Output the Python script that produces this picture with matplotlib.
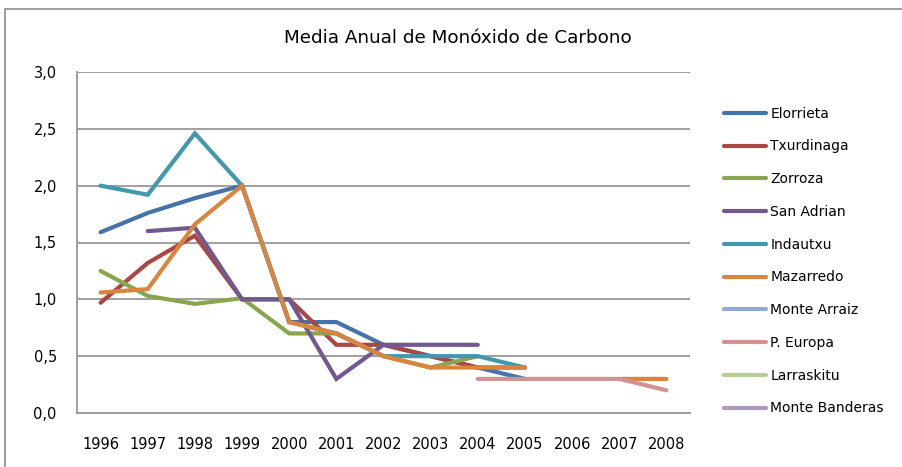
import numpy as np
import matplotlib
matplotlib.use("Agg")
import matplotlib.pyplot as plt
from matplotlib.ticker import FuncFormatter
from matplotlib.patches import Rectangle

plt.rcParams['font.family'] = ['DejaVu Sans']

years = ['1996', '1997', '1998', '1999', '2000', '2001', '2002',
         '2003', '2004', '2005', '2006', '2007', '2008']
nan = np.nan

# annual mean CO per station, nan = no data
elorrieta = [1.59, 1.76, 1.89, 2.0, 0.8, 0.8, 0.6, 0.5, 0.4, 0.3, nan, nan, nan]
txurdinaga = [0.97, 1.32, 1.56, 1.0, 1.0, 0.6, 0.6, 0.5, 0.4, 0.4, nan, nan, nan]
zorroza = [1.25, 1.03, 0.96, 1.01, 0.7, 0.7, 0.5, 0.4, 0.5, nan, nan, nan, nan]
san_adrian = [nan, 1.6, 1.63, 1.0, 1.0, 0.3, 0.6, 0.6, 0.6, nan, nan, nan, nan]
indautxu = [2.0, 1.92, 2.46, 2.0, 0.8, 0.7, 0.5, 0.5, 0.5, 0.4, nan, nan, nan]
mazarredo = [1.06, 1.09, 1.66, 2.0, 0.8, 0.7, 0.5, 0.4, 0.4, 0.4, nan, 0.3, 0.3]
monte_arraiz = [nan] * 13
p_europa = [nan, nan, nan, nan, nan, nan, nan, nan, 0.3, 0.3, 0.3, 0.3, 0.2]
larraskitu = [nan] * 13
monte_banderas = [nan] * 13

names = ['Elorrieta', 'Txurdinaga', 'Zorroza', 'San Adrian', 'Indautxu',
         'Mazarredo', 'Monte Arraiz', 'P. Europa', 'Larraskitu', 'Monte Banderas']
series = [elorrieta, txurdinaga, zorroza, san_adrian, indautxu,
          mazarredo, monte_arraiz, p_europa, larraskitu, monte_banderas]
colors = ['#4572A7', '#AA4643', '#89A54E', '#71588F', '#4198AF',
          '#DB843D', '#93A9CF', '#D19392', '#B9CD96', '#A99BBD']

fig = plt.figure(figsize=(9.03, 4.67), dpi=100)
ax = fig.add_axes([77/903, 1 - 413/467, 613/903, 341/467])

# outer chart border (runs off the right and bottom edges, as in the original)
fig.patches.append(Rectangle((5/903, -0.05), 1.1, 1.05 - 9/467, transform=fig.transFigure,
                             fill=False, edgecolor='#8c8c8c', lw=1.2))

x = np.arange(len(years))
for name, vals, c in zip(names, series, colors):
    ax.plot(x, np.array(vals, dtype=float), color=c, lw=3, label=name,
            solid_capstyle='round', solid_joinstyle='miter')

ax.set_xlim(-0.5, len(years) - 0.5)
ax.set_ylim(0, 3.0)
ax.set_yticks(np.arange(0, 3.01, 0.5))
ax.yaxis.set_major_formatter(FuncFormatter(lambda v, p: f'{v:.1f}'.replace('.', ',')))
ax.set_xticks(x)
ax.set_xticklabels(years)
ax.tick_params(length=0, labelsize=10.5, colors='black')
ax.tick_params(axis='y', pad=14.5)
ax.tick_params(axis='x', pad=17)

ax.grid(axis='y', color='#999999', lw=1.3)
ax.set_axisbelow(True)
for s in ['top', 'right']:
    ax.spines[s].set_visible(False)
for s in ['left', 'bottom']:
    ax.spines[s].set_color('#999999')
    ax.spines[s].set_linewidth(1.3)

fig.text(458/903, 1 - 38/467, 'Media Anual de Monóxido de Carbono', ha='center', va='center',
         fontsize=13.2)

fig.legend(loc='center left', bbox_to_anchor=(712/903, 1 - 261/467), frameon=False,
           fontsize=10, handlelength=3.0, labelspacing=1.35, handletextpad=0.3)

fig.savefig('out.png', dpi=100)
